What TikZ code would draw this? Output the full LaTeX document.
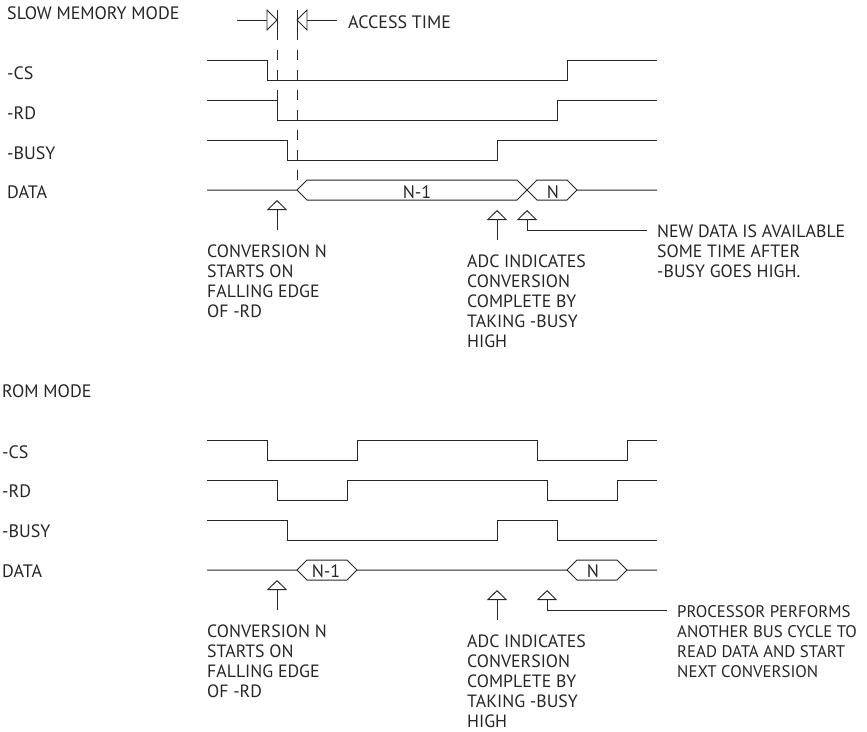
\documentclass[tikz,border=0pt]{standalone}
\usepackage{fontspec}
\setmainfont{PT Sans}
\usetikzlibrary{arrows.meta}
\tikzset{
  wave/.style={line width=1pt, line join=miter, black!85},
  guide/.style={line width=0.9pt, black!85, dash pattern=on 10pt off 10pt},
  cursor/.style={line width=0.9pt, black!85},
  uparrow/.style={line width=0.9pt, black!85, -{Triangle[open, length=10pt, width=20pt, line width=0.9pt]}},
  signal/.style={anchor=base west, inner sep=0pt, font=\fontsize{18}{20}\selectfont, black!85},
  note/.style={anchor=north west, inner sep=0pt, align=left, font=\fontsize{17.8}{20}\selectfont, black!85},
  bus/.style={anchor=base, inner sep=0pt, font=\fontsize{18}{20}\selectfont, black!85}
}
\begin{document}
\begin{tikzpicture}[x=1pt, y=-1pt]
  \useasboundingbox (0,0) rectangle (867,731);

  % slow memory mode
  \node (title1) [signal] at (7,19) {SLOW MEMORY MODE};
  \node (cs1) [signal] at (7,79) {-CS};
  \node (rd1) [signal] at (7,119) {-RD};
  \node (busy1) [signal] at (7,159) {-BUSY};
  \node (data1) [signal] at (7,198) {DATA};
  \node (access) [signal] at (348,28) {ACCESS TIME};

  \draw [wave] (207,60) -- (267,60) -- (267,80) -- (567,80) -- (567,60) -- (657,60);
  \draw [wave] (207,100) -- (277,100) -- (277,120) -- (557,120) -- (557,100) -- (657,100);
  \draw [wave] (207,140) -- (287,140) -- (287,160) -- (497,160) -- (497,140) -- (657,140);
  \draw [wave] (207,190) -- (297,190) -- (307,180) -- (517,180) -- (537,200) -- (567,200) -- (577,190) -- (657,190);
  \draw [wave] (297,190) -- (307,200) -- (517,200) -- (537,180) -- (567,180) -- (577,190);
  \node (n1a) [bus] at (417,198) {N-1};
  \node (n1b) [bus] at (553,198) {N};

  % access time marks
  \coordinate (acl) at (277,30);
  \coordinate (acr) at (297,30);
  \draw [guide] (acl) -- (277,100);
  \draw [guide] (acr) -- (297,180);
  \draw [cursor] (277,10) -- (acl);
  \draw [cursor] (297,10) -- (acr);
  \draw [cursor] (237,20) -- (267,20);
  \draw [cursor] (267,10) -- (277,20) -- (267,30) -- cycle;
  \draw [cursor] (337,20) -- (307,20);
  \draw [cursor] (307,10) -- (297,20) -- (307,30) -- cycle;

  \node (conv1) [note] at (207,245) {CONVERSION N\\STARTS ON\\FALLING EDGE\\OF -RD};
  \node (adc1) [note] at (467,255) {ADC INDICATES\\CONVERSION\\COMPLETE BY\\TAKING -BUSY\\HIGH};
  \node (new1) [note] at (657,225) {NEW DATA IS AVAILABLE\\SOME TIME AFTER\\-BUSY GOES HIGH.};

  \coordinate (conv1tip) at (277,200);
  \coordinate (adc1tip) at (497,210);
  \coordinate (new1tip) at (527,210);
  \draw [uparrow] (277,230) -- (conv1tip);
  \draw [uparrow] (497,240) -- (adc1tip);
  \draw [uparrow] (647,230) -- (527,230) -- (new1tip);

  % rom mode
  \node (title2) [signal] at (2,397) {ROM MODE};
  \node (cs2) [signal] at (2,458) {-CS};
  \node (rd2) [signal] at (2,497) {-RD};
  \node (busy2) [signal] at (2,537) {-BUSY};
  \node (data2) [signal] at (2,577) {DATA};

  \draw [wave] (207,440) -- (267,440) -- (267,460) -- (357,460) -- (357,440) -- (537,440) -- (537,460) -- (627,460) -- (627,440) -- (657,440);
  \draw [wave] (207,480) -- (277,480) -- (277,500) -- (347,500) -- (347,480) -- (547,480) -- (547,500) -- (617,500) -- (617,480) -- (657,480);
  \draw [wave] (207,520) -- (287,520) -- (287,540) -- (497,540) -- (497,520) -- (557,520) -- (557,540) -- (657,540);
  \draw [wave] (207,570) -- (297,570) -- (307,560) -- (347,560) -- (357,570) -- (567,570) -- (577,560) -- (617,560) -- (627,570) -- (657,570);
  \draw [wave] (297,570) -- (307,580) -- (347,580) -- (357,570);
  \draw [wave] (567,570) -- (577,580) -- (617,580) -- (627,570);
  \node (n2a) [bus] at (326,577) {N-1};
  \node (n2b) [bus] at (593,577) {N};

  \node (conv2) [note] at (207,625) {CONVERSION N\\STARTS ON\\FALLING EDGE\\OF -RD};
  \node (adc2) [note] at (467,635) {ADC INDICATES\\CONVERSION\\COMPLETE BY\\TAKING -BUSY\\HIGH};
  \node (proc2) [note, font=\fontsize{16.8}{20}\selectfont] at (677,605) {PROCESSOR PERFORMS\\ANOTHER BUS CYCLE TO\\READ DATA AND START\\NEXT CONVERSION};

  \coordinate (conv2tip) at (277,580);
  \coordinate (adc2tip) at (497,590);
  \coordinate (proc2tip) at (547,590);
  \draw [uparrow] (277,610) -- (conv2tip);
  \draw [uparrow] (497,620) -- (adc2tip);
  \draw [uparrow] (667,610) -- (547,610) -- (proc2tip);
\end{tikzpicture}
\end{document}
